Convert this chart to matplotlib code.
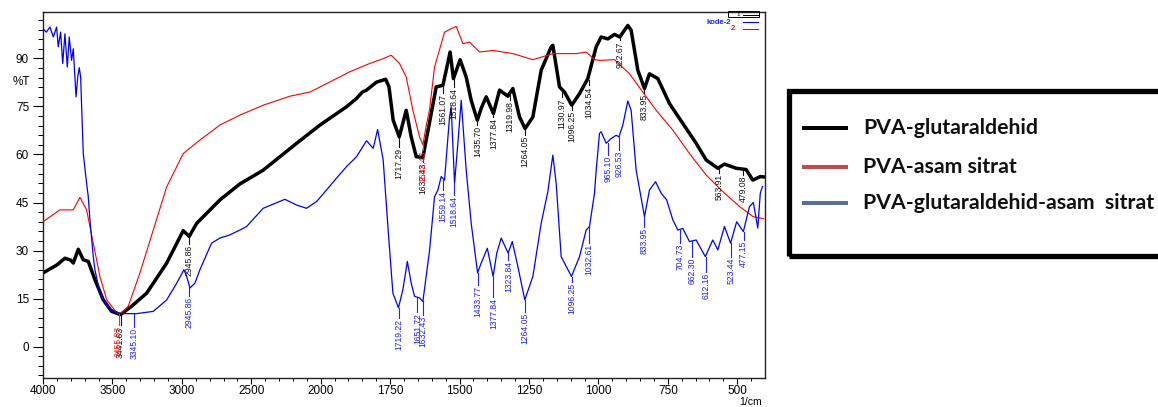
import matplotlib
matplotlib.use('Agg')
import matplotlib.pyplot as plt
import numpy as np
from matplotlib.ticker import FixedLocator
from matplotlib.lines import Line2D
from matplotlib.patches import Rectangle

# ---------------- data ----------------
black_wn = [4000, 3900, 3842, 3800, 3782, 3746, 3710, 3674, 3626, 3566, 3506, 3442, 3362, 3253, 3109,
            2990, 2947, 2893, 2726, 2582, 2414, 2173, 2005, 1907, 1871, 1850, 1835, 1799, 1766,
            1754, 1739, 1717, 1692, 1674, 1656, 1632, 1608, 1584, 1560, 1548, 1534, 1522, 1498,
            1476, 1458, 1436, 1422, 1404, 1378, 1356, 1326, 1308, 1284, 1264, 1236, 1206, 1170,
            1164, 1140, 1122, 1096, 1068, 1038, 1008, 990, 966, 942, 923, 894, 882, 858, 834,
            816, 786, 744, 696, 648, 612, 570, 546, 504, 468, 444, 417, 405]
black_T = [23.0, 25.5, 27.6, 27.0, 26.1, 30.4, 27.1, 26.6, 20.9, 14.6, 11.0, 10.0, 12.6, 16.7, 26.1,
           36.2, 34.4, 38.5, 45.8, 50.8, 55.1, 63.5, 69.2, 74.9, 77.5, 79.5, 80.1, 82.6, 83.5,
           81.1, 70.7, 65.5, 73.8, 65.5, 59.3, 59.1, 70.0, 81.1, 81.6, 86.3, 92.0, 83.7, 89.6,
           84.2, 76.9, 70.7, 74.4, 78.0, 72.8, 80.1, 78.2, 80.6, 71.7, 68.1, 71.7, 86.3, 93.6,
           94.1, 81.1, 79.5, 75.4, 79.0, 83.7, 93.6, 96.7, 96.1, 97.5, 96.7, 100.3, 98.8, 86.3, 80.6,
           85.2, 83.7, 75.9, 69.7, 63.5, 58.3, 55.7, 57.0, 55.7, 55.3, 52.0, 53.1, 53.0]

red_wn = [4000, 3878, 3782, 3734, 3686, 3638, 3590, 3541, 3469, 3440, 3386, 3302, 3206, 3109, 2990,
          2870, 2726, 2582, 2414, 2222, 2078, 1968, 1896, 1824, 1776, 1746, 1716, 1692, 1668,
          1644, 1632, 1620, 1608, 1590, 1554, 1530, 1512, 1488, 1464, 1428, 1380, 1308, 1236,
          1164, 1080, 1044, 1014, 996, 942, 888, 840, 792, 732, 672, 612, 552, 491, 443, 417, 405]
red_T = [39.0, 42.7, 42.7, 46.6, 42.7, 32.3, 21.9, 14.6, 10.5, 10.3, 12.6, 23.0, 36.4, 49.9, 60.3,
         64.5, 69.2, 72.3, 75.4, 78.2, 79.5, 82.6, 85.8, 88.4, 89.9, 91.0, 88.4, 84.2, 73.8,
         65.5, 63.0, 69.0, 74.0, 87.3, 98.2, 99.3, 100.0, 94.6, 95.1, 92.0, 92.5, 91.5, 89.6,
         91.5, 91.5, 92.0, 89.6, 89.4, 89.6, 85.2, 79.5, 73.8, 67.6, 60.3, 53.6, 48.4, 43.7, 40.6, 40.1, 40.0]

blue_wn = [4000, 3976, 3950, 3926, 3902, 3890, 3873, 3858, 3842, 3825, 3811, 3794, 3782, 3762, 3750,
           3739, 3729, 3710, 3686, 3674, 3662, 3638, 3626, 3590, 3530, 3446, 3325, 3206, 3109,
           3037, 2985, 2965, 2942, 2906, 2870, 2786, 2726, 2654, 2582, 2534, 2414, 2258, 2173,
           2102, 2030, 1979, 1943, 1907, 1871, 1835, 1811, 1795, 1775, 1758, 1740, 1720, 1704,
           1688, 1674, 1662, 1644, 1632, 1608, 1590, 1578, 1566, 1554, 1536, 1530, 1518, 1506,
           1494, 1476, 1458, 1435, 1422, 1400, 1379, 1366, 1350, 1325, 1310, 1290, 1265, 1236,
           1206, 1182, 1164, 1152, 1134, 1097, 1068, 1044, 1032, 1014, 1008, 996, 990, 972, 954,
           936, 926, 912, 894, 882, 864, 834, 816, 794, 774, 754, 732, 714, 696, 672, 648, 615,
           588, 570, 546, 524, 502, 478, 456, 442, 426, 417, 409]
blue_T = [99.3, 98.2, 99.8, 96.7, 99.8, 93.6, 98.2, 88.4, 97.7, 87.3, 96.7, 89.4, 93.0, 78.0, 84.2,
          87.1, 84.2, 60.3, 51.0, 46.8, 39.6, 28.1, 24.0, 16.7, 12.1, 10.3, 10.3, 11.0, 14.6,
          19.8, 24.0, 21.9, 18.3, 19.8, 24.0, 32.3, 33.9, 34.9, 36.4, 37.5, 43.2, 46.0, 44.2,
          43.2, 45.3, 48.9, 52.6, 56.2, 59.3, 64.3, 61.9, 67.8, 58.3, 37.5, 16.7, 12.1, 17.8,
          26.6, 19.8, 15.7, 15.2, 14.1, 30.0, 46.8, 48.9, 53.1, 52.0, 71.7, 74.9, 51.0, 63.5,
          76.9, 55.1, 38.5, 23.0, 26.1, 30.7, 21.9, 29.2, 33.9, 29.2, 32.8, 25.0, 14.6, 21.9,
          38.5, 48.4, 59.8, 51.0, 28.1, 21.9, 28.1, 36.4, 37.5, 47.9, 55.0, 66.6, 67.1, 63.5, 65.0,
          66.0, 65.5, 69.2, 76.7, 73.8, 55.1, 40.6, 48.9, 51.5, 47.9, 45.8, 39.6, 36.4, 36.9, 32.8, 33.3, 28.1,
          33.3, 30.2, 37.5, 32.3, 39.0, 35.9, 43.7, 45.0, 37.0, 47.9, 50.0]

# peak labels: text, curve level, text top level
black_peaks = ["3441.63", "2945.86", "1717.29", "1632.43", "1561.07", "1518.64", "1435.70", "1377.84",
               "1319.98", "1264.05", "1130.97", "1096.25", "1034.54", "922.67", "833.95", "563.91", "479.08"]
black_peak_y = [10.0, 34.3, 65.4, 59.2, 82.6, 83.8, 70.7, 72.9, 78.5, 68.2, 80.7, 75.4, 83.2, 96.9, 80.7, 55.8, 55.5]
black_text_y = [6.6, 32.1, 62.3, 57.6, 79.1, 81.0, 69.2, 71.7, 76.9, 66.0, 77.9, 73.8, 81.6, 95.6, 79.1, 54.2, 53.6]

red_peaks = ["3455.83", "1632.43"]
red_peak_y = [10.3, 62.5]
red_text_y = [6.6, 61.4]

blue_peaks = ["3345.10", "2945.86", "1719.22", "1651.72", "1632.43", "1559.14", "1518.64", "1433.77",
              "1377.84", "1323.84", "1264.05", "1096.25", "1032.61", "965.10", "926.53", "833.95",
              "704.73", "662.30", "612.16", "523.44", "477.15"]
blue_peak_y = [10.3, 18.4, 12.1, 15.3, 14.3, 52.0, 51.1, 23.1, 21.8, 29.3, 14.6, 21.8, 37.7, 63.6, 66.0,
               40.5, 36.4, 33.0, 28.0, 32.4, 35.8]
blue_text_y = [6.2, 15.9, 9.0, 10.9, 10.0, 48.9, 47.4, 19.3, 15.6, 27.1, 10.9, 20.2, 32.4, 59.8, 61.4,
               37.4, 32.4, 28.0, 23.4, 28.0, 33.3]

x_major = [4000, 3500, 3000, 2500, 2000, 1750, 1500, 1250, 1000, 750, 500]
y_major = [0, 15, 30, 45, 60, 75, 90]

legend_labels = ["PVA-glutaraldehid", "PVA-asam sitrat", "PVA-glutaraldehid-asam  sitrat"]
legend_colors = ["#000000", "#C24B50", "#56708E"]

# ---------------- scale ----------------
def fwd(x):
    x = np.asarray(x, dtype=float)
    return np.where(x >= 2000, x, 2 * x - 2000)


def inv(y):
    y = np.asarray(y, dtype=float)
    return np.where(y >= 2000, y, (y + 2000) / 2)


W, H = 1158, 407
fig = plt.figure(figsize=(W / 100, H / 100), dpi=100)
fx = lambda px: px / W
fy = lambda py: 1 - py / H

ax = fig.add_axes([fx(43), fy(378.3), fx(765) - fx(43), fy(12) - fy(378.3)])
ax.set_xscale('function', functions=(fwd, inv))
ax.set_xlim(4000, 400)
ax.set_ylim(-9.9, 104.5)

ax.plot(black_wn, black_T, color='black', lw=2.5, zorder=2, solid_joinstyle='round')
ax.plot(red_wn, red_T, color='#ff0000', lw=0.8, zorder=3)
ax.plot(blue_wn, blue_T, color='#0000ff', lw=0.9, zorder=3)

lab_font = dict(family='Liberation Sans', size=6.2)


def put_labels(names, py, ty, color):
    for s, yc, yt in zip(names, py, ty):
        x = float(s)
        ax.plot([x, x], [yc, yt], color=color, lw=0.8, zorder=4)
        ax.text(x, yt - 0.3, s, rotation=90, ha='center', va='top', color=color,
                zorder=4, **lab_font)


put_labels(black_peaks, black_peak_y, black_text_y, '#111111')
put_labels(red_peaks, red_peak_y, red_text_y, '#ff2020')
put_labels(blue_peaks, blue_peak_y, blue_text_y, '#2020ff')

# ticks
x_minor = [v for v in list(range(3900, 2000, -100)) + list(range(1950, 400, -50)) if v not in x_major]
ax.xaxis.set_major_locator(FixedLocator(x_major))
ax.xaxis.set_minor_locator(FixedLocator(x_minor))
ax.set_xticklabels([str(v) for v in x_major])
ax.yaxis.set_major_locator(FixedLocator(y_major))
ax.yaxis.set_minor_locator(FixedLocator([v for v in range(-9, 104, 3) if v not in y_major]))
ax.set_yticklabels([str(v) for v in y_major])
ax.tick_params(axis='x', which='major', direction='out', length=4.5, width=0.8, pad=0.5,
               labelsize=8.5, labelfontfamily='Liberation Sans')
ax.tick_params(axis='x', which='minor', direction='out', length=2.5, width=0.7)
ax.tick_params(axis='y', which='major', direction='out', length=7, width=0.8, pad=3,
               labelsize=8.5, labelfontfamily='Liberation Sans')
ax.tick_params(axis='y', which='minor', direction='out', length=3.5, width=0.7)
for sp in ax.spines.values():
    sp.set_linewidth(1.0)
    sp.set_color('#222222')

fig.text(fx(21), fy(82), "%T", ha='center', va='center', fontsize=8.5, family='Liberation Sans')
fig.text(fx(762), fy(405.3), "1/cm", ha='right', va='baseline', fontsize=7.5, family='Liberation Sans')

# small instrument legend (top right inside plot)
fig.patches.append(Rectangle((fx(728), fy(16.5)), fx(759) - fx(728), fy(11) - fy(16.5),
                             transform=fig.transFigure, fill=False, lw=0.7, edgecolor='black'))
fig.text(fx(738), fy(14), "1", fontsize=4.5, ha='center', va='center', family='Liberation Sans')
fig.lines.append(Line2D([fx(743), fx(758)], [fy(15), fy(15)], transform=fig.transFigure, color='black', lw=0.7))
fig.text(fx(731), fy(22), "kode-2", fontsize=5.5, ha='right', va='center', color='#2020ff',
         family='Liberation Sans', weight='bold')
fig.lines.append(Line2D([fx(743), fx(758)], [fy(22), fy(22)], transform=fig.transFigure, color='#0000ff', lw=0.8))
fig.text(fx(735), fy(28.5), "2", fontsize=5.5, ha='right', va='center', color='#ff2020',
         family='Liberation Sans', weight='bold')
fig.lines.append(Line2D([fx(743), fx(758)], [fy(28.5), fy(28.5)], transform=fig.transFigure, color='#ff0000', lw=0.8))

# big legend box on the right
fig.patches.append(Rectangle((fx(788.5), fy(256)), fx(1175) - fx(788.5), fy(90.5) - fy(256),
                             transform=fig.transFigure, fill=False, lw=3.8, edgecolor='black'))
ly = [127.7, 166.7, 203]
target_w = [174, 155, 300]
renderer = fig.canvas.get_renderer()
leg_texts = []
for lab, col, yy, tw in zip(legend_labels, legend_colors, ly, target_w):
    fig.lines.append(Line2D([fx(802), fx(848)], [fy(yy), fy(yy)], transform=fig.transFigure,
                            color=col, lw=2.9, solid_capstyle='butt'))
    t = fig.text(fx(863), fy(yy), lab, ha='left', va='center', fontsize=12,
                 family=['Lato', 'DejaVu Sans'], weight='bold', color='#111111')
    leg_texts.append(t)
w0 = leg_texts[0].get_window_extent(renderer=renderer).width
fs = 12 * target_w[0] / w0
for t in leg_texts:
    t.set_fontsize(fs)

fig.savefig('out.png', dpi=100)
